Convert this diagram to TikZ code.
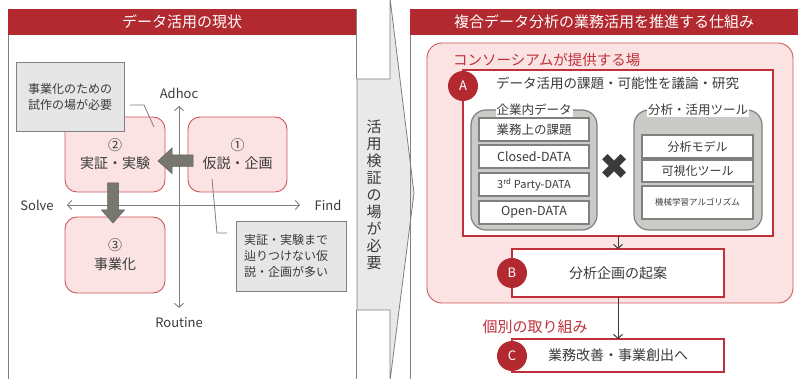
\documentclass[tikz,border=0pt]{standalone}
\usepackage{fontspec}
\setmainfont{Noto Sans CJK JP}
\newfontfamily\symfont{DejaVu Sans}
\usetikzlibrary{arrows.meta}
\definecolor{hdr}{HTML}{B22A30}
\definecolor{redln}{HTML}{C0303A}
\definecolor{pinkfill}{HTML}{FBE3E3}
\definecolor{pinkln}{HTML}{D0555A}
\definecolor{txt}{HTML}{3A3A3A}
\definecolor{axisgray}{HTML}{7F7F7F}
\definecolor{calloutfill}{HTML}{E6E6E6}
\definecolor{blockgray}{HTML}{77776F}
\definecolor{groupfill}{HTML}{CACAC6}
\definecolor{groupln}{HTML}{808080}
\definecolor{midfill}{HTML}{E9E9E9}
\tikzset{
  hdrband/.style={fill=hdr, text=white, minimum height=26pt, inner sep=0pt, outer sep=0pt, font=\fontsize{15}{17}\selectfont},
  phasebox/.style={draw=pinkln, fill=pinkfill, rounded corners=12pt, line width=0.9pt, inner sep=0pt, outer sep=0pt, align=center, text=txt, font=\fontsize{14}{18}\selectfont},
  calloutbox/.style={draw=groupln, fill=calloutfill, line width=0.9pt, inner sep=0pt, outer sep=0pt, text=txt, font=\fontsize{12}{16}\selectfont},
  calloutline/.style={draw=axisgray, line width=0.8pt},
  axisline/.style={draw=axisgray, line width=0.9pt, {Straight Barb[length=4pt,width=9pt]}-{Straight Barb[length=4pt,width=9pt]}},
  axislabel/.style={text=txt, font=\fontsize{13}{15}\selectfont, inner sep=0pt},
  blockarrow/.style={draw=blockgray!80!black, line width=0.5pt, fill=blockgray},
  redbox/.style={draw=redln, fill=white, line width=1.3pt, inner sep=0pt, outer sep=0pt, text=txt},
  badge/.style={circle, fill=hdr, text=white, minimum size=30pt, inner sep=0pt, font=\fontsize{13}{15}\selectfont},
  grp/.style={draw=groupln, fill=groupfill, rounded corners=15pt, line width=1.2pt, inner sep=0pt, outer sep=0pt},
  grptitle/.style={fill=white, inner sep=1pt, text=txt, font=\fontsize{12.5}{14}\selectfont},
  itembox/.style={draw=groupln, fill=white, line width=1.2pt, inner sep=0pt, outer sep=0pt, text=txt, font=\fontsize{12.5}{14}\selectfont},
  flowarrow/.style={draw=txt, line width=1pt, -{Straight Barb[length=4pt,width=9pt]}},
}
\begin{document}
\begin{tikzpicture}[x=1pt,y=-1pt]
\useasboundingbox (0,0) rectangle (798,379);
\fill[white] (0,0) rectangle (798,379);

% middle arrow
\filldraw[fill=midfill, draw=groupln, line width=0.8pt]
  (357,79) -- (390,79) -- (390,-2) -- (414,193) -- (390,381) -- (390,310) -- (357,310) -- cycle;
\node[text=txt, align=center, inner sep=0pt, font=\fontsize{15}{17}\selectfont] (midtext) at (374,195)
  {活\\用\\検\\証\\の\\場\\が\\必\\要};

% left panel
\draw[groupln, line width=0.8pt] (8,381) -- (8,9) -- (356,9) -- (356,79);
\draw[groupln, line width=0.8pt] (356,310) -- (356,381);
\node[hdrband, minimum width=348pt] (lhdr) at (182,22) {データ活用の現状};

% axes
\coordinate (axT) at (179,106);
\coordinate (axB) at (179,308);
\coordinate (axL) at (67,205);
\coordinate (axR) at (300,205);
\draw[axisline] (axB) -- (axT);
\draw[axisline] (axL) -- (axR);
\node[axislabel] (adhoc) at (179,93) {Adhoc};
\node[axislabel] (routine) at (179,323) {Routine};
\node[axislabel] (solve) at (37,205) {Solve};
\node[axislabel] (find) at (328,205) {Find};

% phase boxes
\node[phasebox, minimum width=100pt, minimum height=75pt] (b2) at (115,154.5) {②\\実証・実験};
\node[phasebox, minimum width=99pt, minimum height=75pt] (b1) at (237.5,154.5) {①\\仮説・企画};
\node[phasebox, minimum width=100pt, minimum height=76pt, font=\fontsize{14}{19}\selectfont] (b3) at (115,255) {③\\事業化};

% block arrows
\filldraw[blockarrow] (193,155) -- (172,155) -- (172,148) -- (158,161) -- (172,173.5) -- (172,166.5) -- (193,166.5) -- cycle;
\filldraw[blockarrow] (107.5,183) -- (118.5,183) -- (118.5,210) -- (124.5,210) -- (113,223) -- (101.5,210) -- (107.5,210) -- cycle;

% callouts
\node[calloutbox, minimum width=108pt, minimum height=69pt, align=left] (c1) at (70,96.5) {事業化のための\\試作の場が必要};
\draw[calloutline] (130,105) -- (144,105) -- (154,127);
\node[calloutbox, minimum width=110pt, minimum height=70pt, align=left, text width=94pt] (c2) at (291,256) {実証・実験まで\\辿りつけない仮\\説・企画が多い};
\draw[calloutline] (212,179) -- (217,233) -- (227,233);

% right panel
\draw[groupln, line width=0.8pt] (410,9) -- (410,381);
\node[hdrband, minimum width=388pt] (rhdr) at (604,22) {複合データ分析の業務活用を推進する仕組み};

\draw[draw=pinkln, fill=pinkfill, rounded corners=15pt, line width=0.9pt] (427,43) rectangle (793,303);
\node[anchor=west, text=redln, inner sep=0pt, font=\fontsize{14.5}{16}\selectfont] (consort) at (453,60) {コンソーシアムが提供する場};

\node[redbox, minimum width=310pt, minimum height=166pt] (boxA) at (618,153) {};
\node[badge] (cA) at (463,86) {A};
\node[anchor=west, text=txt, inner sep=0pt, font=\fontsize{13.5}{15}\selectfont] (titleA) at (496,83) {データ活用の課題・可能性を議論・研究};

% left group
\node[grp, minimum width=126pt, minimum height=120pt] (g1) at (534,170) {};
\node[grptitle] (g1t) at (534,110) {企業内データ};
\node[itembox, minimum width=110pt, minimum height=23pt] (i1) at (534,129.5) {業務上の課題};
\node[itembox, minimum width=110pt, minimum height=23pt] (i2) at (534,156.5) {Closed-DATA};
\node[itembox, minimum width=110pt, minimum height=23pt, font=\fontsize{11}{13}\selectfont] (i3) at (534,184.5) {3\textsuperscript{rd} Party-DATA};
\node[itembox, minimum width=110pt, minimum height=23pt] (i4) at (534,212.5) {Open-DATA};

% right group
\node[grp, minimum width=128pt, minimum height=120pt] (g2) at (698,170) {};
\node[grptitle] (g2t) at (698,110) {分析・活用ツール};
\node[itembox, minimum width=111pt, minimum height=23pt, font=\fontsize{12}{14}\selectfont] (t1) at (697.5,146.5) {分析モデル};
\node[itembox, minimum width=111pt, minimum height=22pt, font=\fontsize{12}{14}\selectfont] (t2) at (697.5,171) {可視化ツール};
\node[itembox, minimum width=111pt, minimum height=33pt, font=\fontsize{8.5}{10}\selectfont] (t3) at (697.5,202.5) {機械学習アルゴリズム};

\node[text=txt, inner sep=0pt, font=\symfont\fontsize{36}{36}\selectfont] (cross) at (615,167) {✖};

% B and C
\node[redbox, minimum width=212pt, minimum height=48pt, font=\fontsize{14}{16}\selectfont] (boxB) at (618,273) {分析企画の起案};
\node[badge] (cB) at (512,273) {B};
\node[text=redln, inner sep=0pt, font=\fontsize{15}{17}\selectfont] (kobetsu) at (535,327) {個別の取り組み};
\node[redbox, minimum width=212pt, minimum height=33pt, font=\fontsize{14}{16}\selectfont] (boxC) at (618,355.5) {業務改善・事業創出へ};
\node[badge] (cC) at (512,356) {C};

\draw[flowarrow] (boxA.south -| boxB.north) -- (boxB.north);
\draw[flowarrow] (boxB.south) -- (boxC.north);
\end{tikzpicture}
\end{document}
